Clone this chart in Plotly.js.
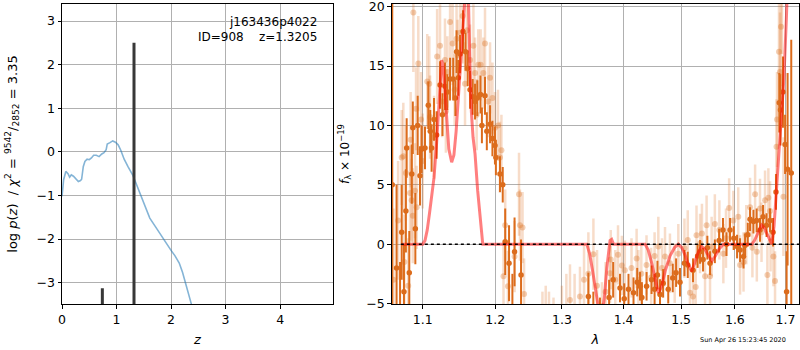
<!DOCTYPE html>
<html>
<head>
<meta charset="utf-8">
<script src="https://cdn.plot.ly/plotly-3.0.1.min.js"></script>
<style>html,body{margin:0;padding:0;background:#fff;}#chart{width:800px;height:350px;}</style>
</head>
<body>
<div id="chart"></div>
<script>
// ---- Left panel: log p(z) ----
const zGrid = [0, 0.03, 0.07, 0.11, 0.14, 0.17, 0.21, 0.26, 0.30, 0.34, 0.36, 0.39, 0.42, 0.46, 0.50, 0.54, 0.58, 0.63, 0.68, 0.73, 0.77, 0.81, 0.83, 0.88, 0.93, 0.98, 1.03, 1.08, 1.14, 1.21, 1.30, 1.37, 1.44, 1.53, 1.61, 1.71, 1.80, 1.90, 2.00, 2.07, 2.15, 2.21, 2.28, 2.33, 2.37, 2.45];
const logPz = [-1.02, -0.64, -0.45, -0.50, -0.58, -0.53, -0.56, -0.62, -0.68, -0.66, -0.63, -0.34, -0.22, -0.17, -0.18, -0.14, -0.08, -0.08, -0.11, -0.05, -0.02, 0.05, 0.18, 0.21, 0.25, 0.22, 0.16, 0.03, -0.17, -0.34, -0.54, -0.76, -0.98, -1.29, -1.52, -1.71, -1.89, -2.08, -2.26, -2.38, -2.55, -2.76, -3.08, -3.27, -3.48, -4.0];
const peakZ = [0.74, 1.3205];
const peakLogP = [-3.13, 2.50];
const zTicks = [0, 1, 2, 3, 4];
const logPTicks = [-3, -2, -1, 0, 1, 2, 3];
const logPTickText = ['\u22123', '\u22122', '\u22121', '0', '1', '2', '3'];

// ---- Right panel: spectrum ----
const faintWave = [1.0620,1.0680,1.0726,1.0747,1.0760,1.0780,1.0810,1.0834,1.0842,1.0855,1.0870,1.0877,1.0899,1.0912,1.0920,1.0942,1.0978,1.1000,1.1060,1.1087,1.1097,1.1150,1.1192,1.1231,1.1260,1.1298,1.1310,1.1330,1.1367,1.1402,1.1430,1.1456,1.1470,1.1504,1.1540,1.1573,1.1600,1.1643,1.1690,1.1713,1.1736,1.1759,1.1792,1.1830,1.1854,1.1900,1.1926,1.1960,1.1997,1.2040,1.2069,1.2090,1.2120,1.2145,1.2185,1.2282,1.2348,1.2362,1.2400,1.2423,1.2700,1.2750,1.2800,1.2870,1.3000,1.3070,1.3127,1.3200,1.3285,1.3350,1.3420,1.3501,1.3560,1.3640,1.3700,1.3773,1.3785,1.3860,1.3906,1.4020,1.4133,1.4220,1.4300,1.4390,1.4470,1.4530,1.4595,1.4713,1.4800,1.4885,1.4950,1.5060,1.5120,1.5160,1.5216,1.5265,1.5280,1.5345,1.5380,1.5437,1.5466,1.5530,1.5620,1.5705,1.5780,1.5890,1.5970,1.6065,1.6100,1.6167,1.6294,1.6393,1.6427,1.6490,1.6590,1.6637,1.6656,1.6690,1.6757,1.6790,1.6820,1.6830,1.6870,1.6890,1.6910,1.6930,1.6960,1.5830,1.6220,1.6340,1.6520,1.6700,1.5560,1.4660,1.4250,1.3970];
const faintFlux = [-3.0,2.0,7.3,7.4,-1.5,6.0,-3.5,4.3,8.8,3.7,2.4,19.5,4.5,11.4,3.1,15.2,10.5,7.0,13.7,13.5,10.7,9.0,15.8,16.7,12.0,15.5,11.2,14.5,18.7,16.9,13.0,17.3,15.9,17.8,19.2,13.5,18.0,15.5,16.7,14.4,10.9,15.1,15.1,14.4,16.9,12.0,14.0,12.3,9.8,10.0,7.3,7.9,-2.7,1.6,-3.55,-1.05,4.2,1.6,1.4,-4.2,-6.5,-6.0,-6.5,-7.0,-6.0,-5.5,-4.7,-6.0,-4.4,-3.0,-2.5,-0.85,-3.5,-5.2,-4.0,-2.45,-1.3,-3.0,-0.9,-2.2,-2.0,-1.2,-2.5,-1.75,-2.8,-1.0,-0.2,-1.05,-1.6,-2.45,-0.8,-0.35,0.35,-4.1,-4.4,-3.6,0.75,0.05,0.9,-2.7,1.6,-2.7,1.7,1.2,-0.8,3.05,2.0,2.3,-1.75,-1.5,3.1,4.2,-0.65,3.0,3.7,-2.6,3.9,2.8,-1.05,-3.1,8.2,10.5,16.2,14.5,18.3,22.0,4.0,0.5,0.8,-0.3,1.0,0.2,-0.2,-2.0,-3.0,-1.8];
const faintErr = [6,5,4,4.5,4,4,4,4,4,3.5,4,5,4,3.5,3.5,4,4,4,4,4,3.5,3.5,4,3.5,3,3.5,3.5,3,4,3.5,3,3.5,3,3.5,4,3.5,3.5,3,3.5,3,3,3,3,3,3,3,3,3,3,3,3,3,3,3,3,3,3.5,3,3,3,2.5,2.5,2.5,2.5,2.5,3,3,3.5,2.5,3,3.5,3,3,2,2.5,2.5,2.5,2.5,2.5,2.5,2.5,2.5,2.5,2.5,2.5,2,2.5,2.5,2.5,2.5,2.5,2.5,2.5,2,2.5,2.5,2.5,2.5,2.5,2.5,2.5,2.5,2.5,2.5,2.5,2.5,2.5,2.5,2.5,2.5,2.5,2.5,2.5,2.5,2.5,2.5,2.5,2.5,2.5,2.5,4,4,5,5,5,6,5,2.5,2.5,2.5,2.5,2.5,2.5,2.5,2.5,2.5];

const darkWave = [1.0605,1.0660,1.0705,1.0726,1.0755,1.0780,1.0790,1.0824,1.0857,1.0870,1.0903,1.0934,1.0964,1.0985,1.1030,1.1074,1.1100,1.1118,1.1150,1.1185,1.1231,1.1264,1.1298,1.1330,1.1367,1.1410,1.1440,1.1456,1.1480,1.1504,1.1545,1.1580,1.1610,1.1643,1.1680,1.1713,1.1745,1.1790,1.1810,1.1854,1.1880,1.1926,1.1960,1.1997,1.2010,1.2069,1.2109,1.2145,1.2201,1.2250,1.2282,1.2378,1.3420,1.3500,1.3608,1.3758,1.3825,1.3939,1.4010,1.4082,1.4167,1.4230,1.4278,1.4310,1.4391,1.4477,1.4530,1.4580,1.4625,1.4680,1.4770,1.4850,1.4910,1.4980,1.5060,1.5120,1.5216,1.5300,1.5345,1.5400,1.5480,1.5530,1.5620,1.5700,1.5773,1.5840,1.5907,1.5980,1.6042,1.6100,1.6167,1.6197,1.6250,1.6294,1.6360,1.6424,1.6490,1.6550,1.6620,1.6690,1.6750,1.6809,1.6876,1.6900,1.6950,1.6994,1.7025,1.7045,1.7120];
const darkFlux = [5.0,-2.0,-6.5,1.0,-4.0,2.8,8.1,-2.4,5.9,9.8,1.3,10.0,5.75,8.0,8.1,11.7,9.5,8.1,10.5,9.2,13.4,10.9,13.3,12.8,13.9,13.9,12.3,16.2,14.0,16.0,17.9,16.2,14.8,13.0,12.4,12.0,12.3,12.6,10.0,12.5,9.5,10.1,8.9,8.3,7.3,5.9,5.0,0.2,-1.6,-5.5,-0.65,-2.6,-4.4,-5.5,-6.0,-4.5,-3.0,-3.7,-4.6,-3.8,-4.1,-3.2,-3.55,-4.5,-3.55,-3.0,-3.8,-2.6,-4.25,-3.3,-3.8,-2.85,-2.4,-3.2,-1.6,-1.75,-2.2,-1.0,-0.65,-1.3,-0.3,-1.6,-0.6,0.3,1.2,0.0,1.2,0.5,-0.2,-0.5,-1.05,-0.1,0.8,2.1,1.9,2.0,1.2,2.3,1.6,2.0,1.0,4.4,11.9,11.3,12.8,8.4,-4.0,6.3,6.0];
const darkErr = [30,7,5,4,4,3.5,2.5,3.5,2.5,2.2,3,2.5,2.5,2.0,1.8,2.0,1.8,2.0,1.8,2.0,2.0,1.8,2.0,1.5,1.8,1.8,1.5,1.8,1.5,1.6,1.8,1.6,1.5,1.6,1.5,1.5,1.5,1.6,1.5,1.6,1.6,1.6,1.5,1.6,1.5,1.5,1.5,2.8,3.2,3,2.9,3,2,1.5,1.5,1.5,1.5,1.2,1.3,1.3,1.3,1.2,1.2,1.3,1.2,1.2,1.3,1.2,1.3,1.2,1.2,1.2,1.2,1.2,1.1,1.1,1.0,1.0,1.0,1.0,1.0,1.0,1.0,1.0,1.0,1.0,1.0,1.0,1.0,1.0,1.0,1.0,1.0,1.0,1.0,1.0,1.0,1.0,1.0,1.0,1.2,1.5,2.5,3.0,3.0,2.5,3.4,8.1,11.2];

const modelWave = [1.0726,1.1000,1.1030,1.1060,1.1090,1.1120,1.1150,1.1185,1.1210,1.1232,1.1253,1.1275,1.1300,1.1325,1.1350,1.1389,1.1420,1.1450,1.1480,1.1510,1.1540,1.1573,1.1598,1.1622,1.1640,1.1661,1.1685,1.1713,1.1750,1.1783,1.1805,1.1822,
  1.3394,1.3440,1.3490,1.3540,1.3590,1.3636,1.3680,1.3720,1.3750,1.3773,1.3800,1.3830,
  1.4365,1.4420,1.4480,1.4540,1.4595,1.4650,1.4720,1.4800,1.4880,1.4950,1.5010,1.5070,1.5130,1.5192,1.5250,1.5310,1.5376,1.5430,1.5490,1.5566,1.5630,1.5700,1.5780,
  1.6328,1.6380,1.6430,1.6480,1.6524,1.6570,1.6620,1.6680,1.6725,1.6770,1.6820,1.6870,1.6925,1.6970,1.7020,1.7070];
const modelFlux = [0,0,0.3,1.2,2.6,4.0,5.6,8.5,11.5,14.0,15.5,15.0,12.8,10.0,8.0,6.9,7.5,9.5,12.5,15.5,18.5,20.8,22.0,20.3,15.5,11.2,9.0,7.6,4.5,2.3,0.8,0,
  0,-0.8,-2.3,-4.0,-5.6,-6.2,-4.5,-2.0,-0.5,0.3,0.4,0,
  0,-0.5,-1.6,-3.0,-4.1,-3.6,-2.2,-1.0,-0.3,0,-0.3,-0.9,-1.7,-2.3,-1.6,-0.7,-0.2,-0.4,-0.9,-1.4,-1.0,-0.4,0,
  0,0.3,0.8,1.3,1.6,1.4,0.9,0.3,0,1.5,4.5,7.8,10.5,14,19,25];
const zeroWave = [1.0715, 1.7281];
const zeroFlux = [0, 0];
const lamTicks = [1.1, 1.2, 1.3, 1.4, 1.5, 1.6, 1.7];
const fluxTicks = [-5, 0, 5, 10, 15, 20];
const fluxTickText = ['\u22125', '0', '5', '10', '15', '20'];

// build vertical segments for the redshift peaks
const peakX = [], peakY = [];
peakZ.forEach((z, i) => { peakX.push(z, z, null); peakY.push(-10, peakLogP[i], null); });

const ORANGE = 'rgb(220,108,28)';
const traces = [
  {x: zGrid, y: logPz, type: 'scatter', mode: 'lines', xaxis: 'x', yaxis: 'y',
   line: {color: 'rgba(31,119,180,0.55)', width: 1.6}, hoverinfo: 'skip'},
  {x: peakX, y: peakY, type: 'scatter', mode: 'lines', xaxis: 'x', yaxis: 'y',
   line: {color: '#383838', width: 3}, hoverinfo: 'skip'},
  {x: faintWave, y: faintFlux, type: 'scatter', mode: 'markers', xaxis: 'x2', yaxis: 'y2',
   marker: {color: 'rgba(220,108,28,0.33)', size: 6},
   error_y: {type: 'data', array: faintErr, visible: true, color: 'rgba(220,108,28,0.24)', thickness: 2.5, width: 0}},
  {x: darkWave, y: darkFlux, type: 'scatter', mode: 'markers', xaxis: 'x2', yaxis: 'y2',
   marker: {color: ORANGE, size: 5.5},
   error_y: {type: 'data', array: darkErr, visible: true, color: ORANGE, thickness: 2, width: 0}},
  {x: modelWave, y: modelFlux, type: 'scatter', mode: 'lines', xaxis: 'x2', yaxis: 'y2',
   line: {color: 'rgba(255,0,0,0.5)', width: 3}},
  {x: zeroWave, y: zeroFlux, type: 'scatter', mode: 'lines', xaxis: 'x2', yaxis: 'y2',
   line: {color: 'black', width: 1.5, dash: 'dot'}}
];

const axisCommon = {
  showline: true, mirror: true, linecolor: 'black', linewidth: 1,
  ticks: 'outside', ticklen: 3.5, tickwidth: 1, tickcolor: 'black',
  showgrid: true, gridcolor: '#b0b0b0', gridwidth: 1, zeroline: false,
  ticklabeloverflow: 'allow',
  tickfont: {size: 12.5, color: 'black', family: 'DejaVu Sans'}
};
const yDom = [1 - 304/350, 1 - 4/350];

const layout = {
  width: 800, height: 350,
  margin: {l: 0, r: 0, t: 0, b: 0},
  paper_bgcolor: 'white', plot_bgcolor: 'white',
  showlegend: false,
  font: {family: 'DejaVu Sans', color: 'black'},
  xaxis: Object.assign({}, axisCommon, {
    domain: [62/800, 333/800], range: [0, 4.97], anchor: 'y',
    tickmode: 'array', tickvals: zTicks,
    title: {text: '<i>z</i>', font: {size: 13}, standoff: 9}
  }),
  yaxis: Object.assign({}, axisCommon, {
    domain: yDom, range: [-3.49, 3.39], anchor: 'x',
    tickmode: 'array', tickvals: logPTicks, ticktext: logPTickText,
    title: {text: 'log <i>p</i>(<i>z</i>)  / <i>\u03c7</i><sup>2</sup> = <sup>9542</sup>/<sub>2852</sub> = 3.35', font: {size: 13}, standoff: 16}
  }),
  xaxis2: Object.assign({}, axisCommon, {
    domain: [391.7/800, 799/800], type: 'log', range: [Math.log10(1.0598), Math.log10(1.728)], anchor: 'y2',
    tickmode: 'array', tickvals: lamTicks, ticktext: lamTicks.map(v => v.toFixed(1)),
    title: {text: '<i>\u03bb</i>', font: {size: 13}, standoff: 9}
  }),
  yaxis2: Object.assign({}, axisCommon, {
    domain: yDom, range: [-5.04, 20.22], anchor: 'x2',
    tickmode: 'array', tickvals: fluxTicks, ticktext: fluxTickText,
    title: {text: '<i>f</i><sub>\u03bb</sub> \u00d7 10<sup>\u221219</sup>', font: {size: 12}, standoff: 14}
  }),
  annotations: [
    {xref: 'paper', yref: 'paper', x: 319/800, y: 1 - 22/350, xanchor: 'right', yanchor: 'middle',
     text: 'j163436p4022', showarrow: false, font: {size: 12, color: 'black'}},
    {xref: 'paper', yref: 'paper', x: 319/800, y: 1 - 37/350, xanchor: 'right', yanchor: 'middle',
     text: 'ID=908\u00a0\u00a0\u00a0\u00a0z=1.3205', showarrow: false, font: {size: 12, color: 'black'}},
    {xref: 'paper', yref: 'paper', x: 788/800, y: 1 - 340/350, xanchor: 'right', yanchor: 'middle',
     text: 'Sun Apr 26 15:23:45 2020', showarrow: false, font: {size: 6.5, color: 'black'}}
  ]
};

Plotly.newPlot('chart', traces, layout, {staticPlot: true, displayModeBar: false});
</script>
</body>
</html>
